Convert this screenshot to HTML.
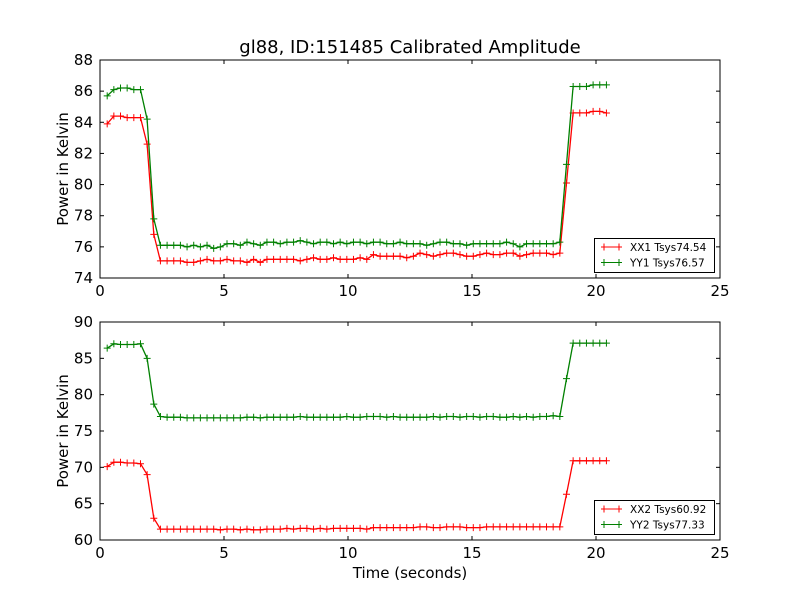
<!DOCTYPE html>
<html><head><meta charset="utf-8"><style>
body{margin:0;background:#fff;}
svg text{font-family:"DejaVu Sans","Liberation Sans",sans-serif;}
</style></head><body>
<svg id="chart" width="800" height="600" xmlns="http://www.w3.org/2000/svg">
<rect width="800" height="600" fill="#fff"/>
<text x="410" y="53" font-size="18" text-anchor="middle">gl88, ID:151485 Calibrated Amplitude</text>
<g id="p1"></g>
<g id="p2"></g>
<text x="410" y="578" font-size="15" text-anchor="middle">Time (seconds)</text>
</svg>
<script>
const x0 = 0.29, dt = 0.2684;
const xx1 = [83.9,84.4,84.4,84.3,84.3,84.3,82.6,76.8,75.1,75.1,75.1,75.1,75.0,75.0,75.1,75.2,75.1,75.1,75.2,75.1,75.1,75.0,75.2,75.0,75.2,75.2,75.2,75.2,75.2,75.1,75.2,75.3,75.2,75.2,75.3,75.2,75.2,75.2,75.3,75.2,75.5,75.4,75.4,75.4,75.4,75.3,75.4,75.6,75.5,75.4,75.5,75.6,75.6,75.5,75.4,75.4,75.5,75.6,75.5,75.5,75.6,75.6,75.4,75.5,75.6,75.6,75.6,75.5,75.6,80.1,84.6,84.6,84.6,84.7,84.7,84.6];
const yy1 = [85.7,86.1,86.2,86.2,86.1,86.1,84.2,77.8,76.1,76.1,76.1,76.1,76.0,76.1,76.0,76.1,75.9,76.0,76.2,76.2,76.1,76.3,76.2,76.1,76.3,76.3,76.2,76.3,76.3,76.4,76.3,76.2,76.3,76.3,76.2,76.3,76.2,76.3,76.3,76.2,76.3,76.3,76.2,76.2,76.3,76.2,76.2,76.2,76.1,76.2,76.3,76.3,76.2,76.2,76.1,76.2,76.2,76.2,76.2,76.2,76.3,76.2,76.0,76.2,76.2,76.2,76.2,76.2,76.3,81.3,86.3,86.3,86.3,86.4,86.4,86.4];
const xx2 = [70.1,70.7,70.7,70.6,70.6,70.5,69.0,63.0,61.5,61.5,61.5,61.5,61.5,61.5,61.5,61.5,61.5,61.4,61.5,61.5,61.4,61.5,61.4,61.4,61.5,61.5,61.5,61.6,61.5,61.6,61.6,61.5,61.6,61.5,61.6,61.6,61.6,61.6,61.6,61.5,61.7,61.7,61.7,61.7,61.7,61.7,61.7,61.8,61.8,61.7,61.7,61.8,61.8,61.8,61.7,61.7,61.7,61.8,61.8,61.8,61.8,61.8,61.8,61.8,61.8,61.8,61.8,61.8,61.8,66.3,70.9,70.9,70.9,70.9,70.9,70.9];
const yy2 = [86.4,87.0,86.9,86.9,86.9,87.0,85.0,78.7,77.0,76.9,76.9,76.9,76.8,76.8,76.8,76.8,76.8,76.8,76.8,76.8,76.8,76.9,76.9,76.8,76.9,76.9,76.9,76.9,76.9,77.0,76.9,76.9,76.9,76.9,76.9,76.9,77.0,76.9,76.9,77.0,77.0,77.0,76.9,77.0,76.9,76.9,76.9,76.9,76.9,77.0,76.9,77.0,77.0,76.9,77.0,77.0,76.9,77.0,77.0,76.9,76.9,77.0,76.9,77.0,76.9,77.0,77.0,77.1,77.0,82.2,87.1,87.1,87.1,87.1,87.1,87.1];
const xTicks = [0,5,10,15,20,25];
const yTicks1 = [74,76,78,80,82,84,86,88];
const yTicks2 = [60,65,70,75,80,85,90];
const labels1 = ["XX1 Tsys74.54","YY1 Tsys76.57"];
const labels2 = ["XX2 Tsys60.92","YY2 Tsys77.33"];

const NS="http://www.w3.org/2000/svg";
function mk(p,tag,attrs){const e=document.createElementNS(NS,tag);for(const k in attrs)e.setAttribute(k,attrs[k]);p.appendChild(e);return e;}

function panel(g, top, ymin, ymax, yTicks, series, labels, legTop, pname){
  const L=100,R=720,T=top,B=top+218;
  const sx=v=>L+(v-0)/25*(R-L);
  const sy=v=>B-(v-ymin)/(ymax-ymin)*(B-T);
  // ticks
  xTicks.forEach(t=>{
    const x=sx(t);
    const a=mk(g,'line',{x1:x,x2:x,y1:B,y2:B-4,stroke:'#000'});
    
    
    mk(g,'line',{x1:x,x2:x,y1:T,y2:T+4,stroke:'#000'});
    const tx=mk(g,'text',{x:x,y:B+18,'font-size':15,'text-anchor':'middle'});
    tx.textContent=t;
    
    
  });
  yTicks.forEach(t=>{
    const y=sy(t);
    mk(g,'line',{x1:L,x2:L+4,y1:y,y2:y,stroke:'#000'});
    mk(g,'line',{x1:R,x2:R-4,y1:y,y2:y,stroke:'#000'});
    const tx=mk(g,'text',{x:L-7,y:y+5,'font-size':15,'text-anchor':'end'});
    tx.textContent=t;
    
    
  });
  const yt=mk(g,'text',{x:0,y:0,'font-size':15,'text-anchor':'middle',transform:`translate(68,${(T+B)/2}) rotate(-90)`});
  yt.textContent='Power in Kelvin';
  
  
  const colors=['#ff0000','#008000'];
  series.forEach((s,si)=>{
    const pts=s.map((v,i)=>sx(x0+i*dt).toFixed(1)+','+sy(v).toFixed(1)).join(' ');
    const pl=mk(g,'polyline',{points:pts,fill:'none',stroke:colors[si],'stroke-width':1.3});
    
    
    s.forEach((v,i)=>{
      const x=sx(x0+i*dt),y=sy(v);
      const m=mk(g,'path',{d:`M${x-3.5},${y}H${x+3.5}M${x},${y-3.5}V${y+3.5}`,stroke:colors[si],'stroke-width':1});
      
      
    });
  });
  const fr=mk(g,'rect',{x:L,y:T,width:R-L,height:B-T,fill:'none',stroke:'#000','stroke-width':1});
  
  
  // legend
  const lg=mk(g,'g',{});
  
  
  mk(lg,'rect',{x:594.5,y:legTop+.5,width:120,height:34,fill:'#fff',stroke:'#000','stroke-width':1});
  labels.forEach((lab,i)=>{
    const y=legTop+9+i*15.5;
    mk(lg,'path',{d:`M601,${y}H622M604,${y-3.5}V${y+3.5}M619,${y-3.5}V${y+3.5}`,stroke:colors[i],'stroke-width':1});
    const t=mk(lg,'text',{x:630,y:y+4,'font-size':10.5});
    t.textContent=lab;
    
    
  });
}
panel(document.getElementById('p1'),60,74,88,yTicks1,[xx1,yy1],labels1,238,'top');
panel(document.getElementById('p2'),322,60,90,yTicks2,[xx2,yy2],labels2,500,'bottom');
</script>
</body></html>
